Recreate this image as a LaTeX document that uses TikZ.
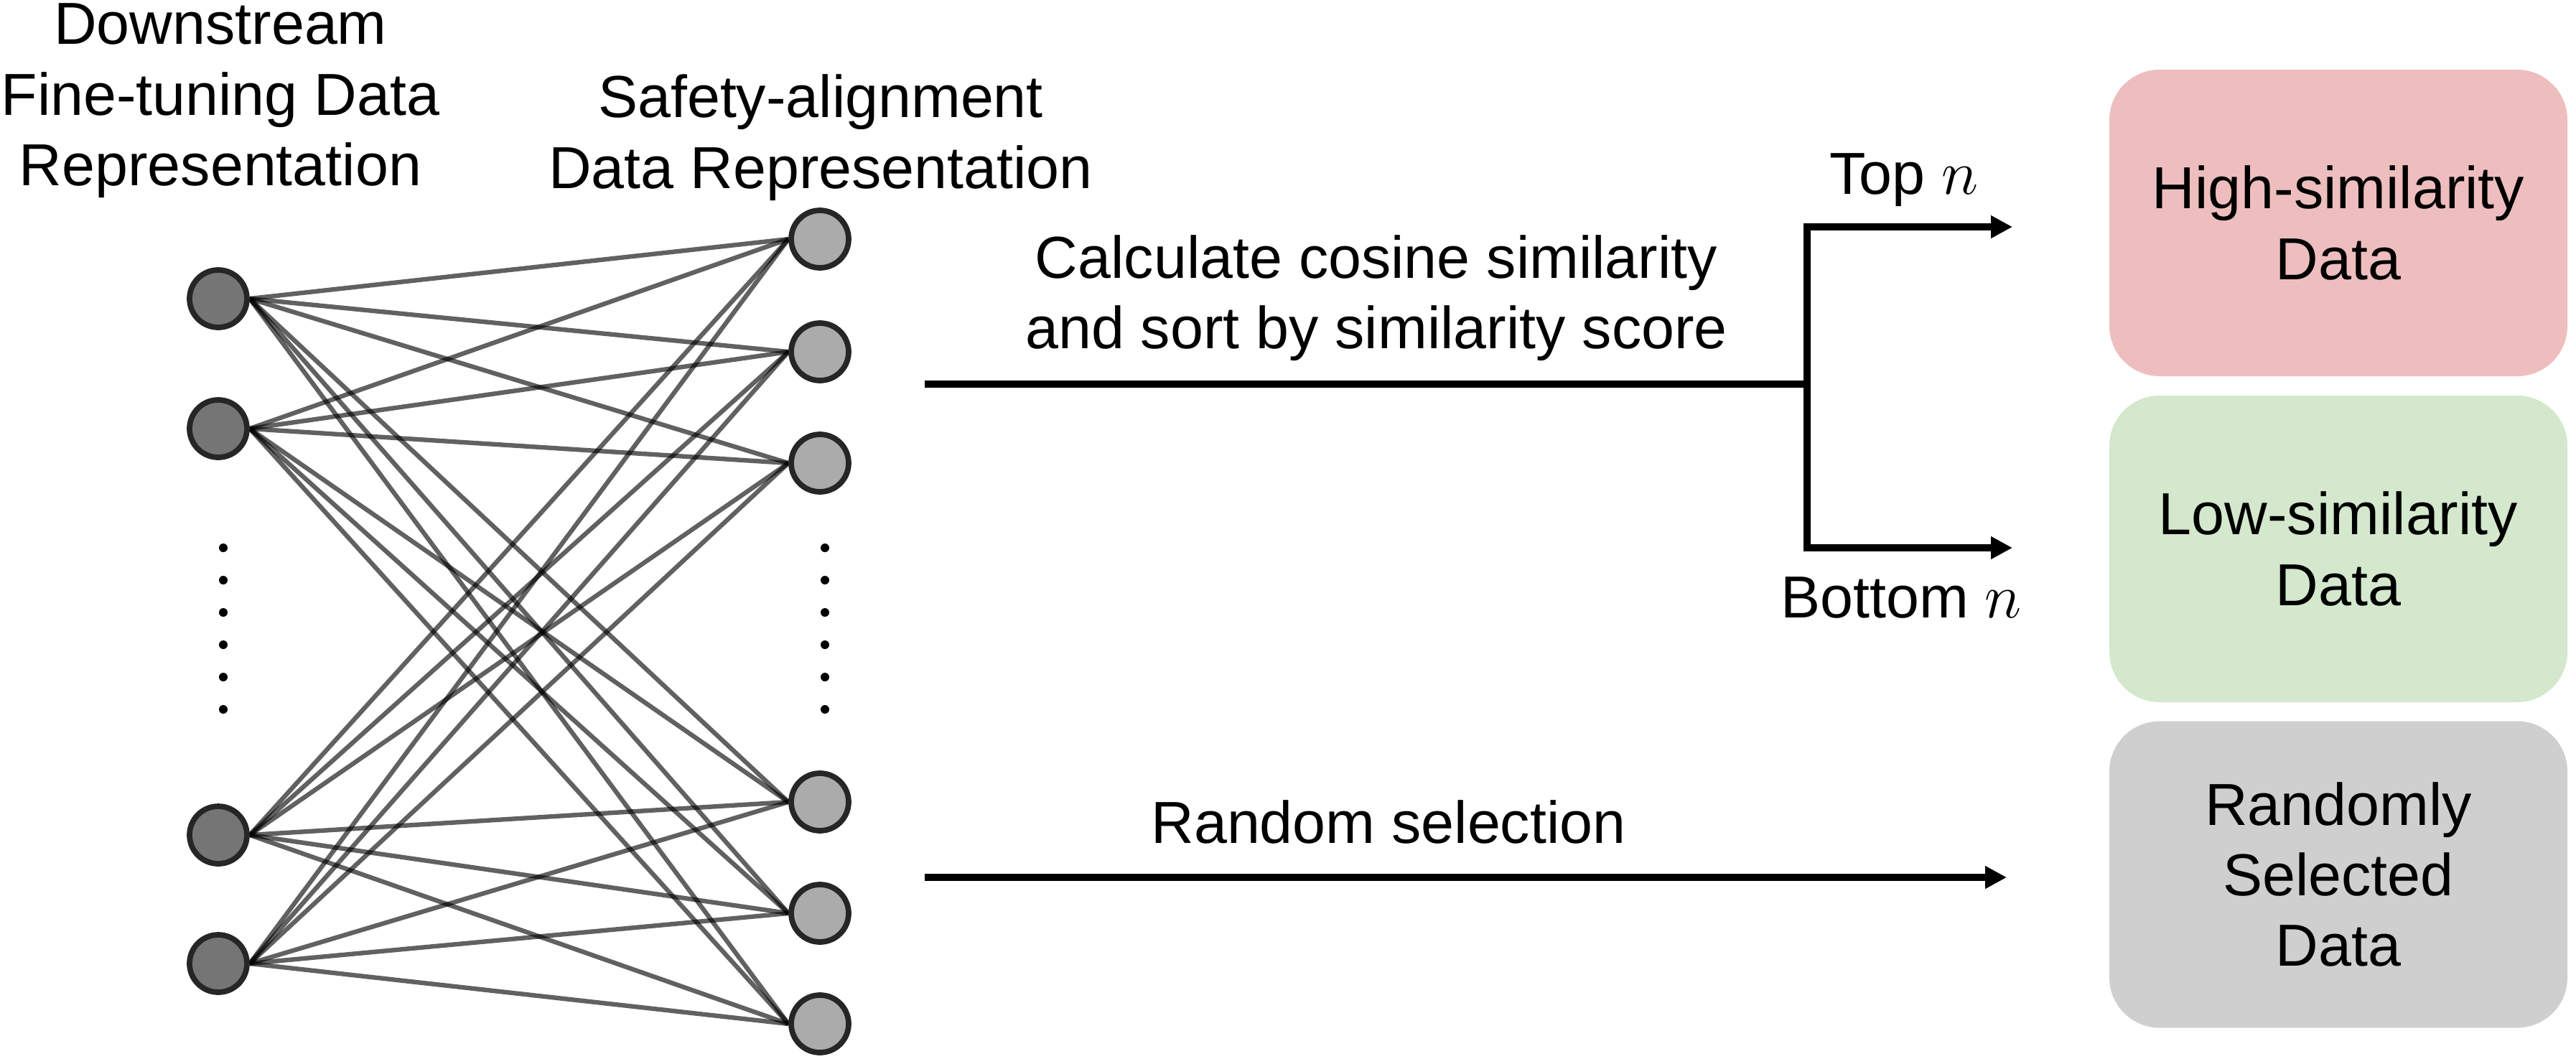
\documentclass[tikz,border=0pt]{standalone}
\usepackage{fontspec}
\setmainfont{Liberation Sans}
\usetikzlibrary{positioning,backgrounds,arrows.meta}

\definecolor{highred}{RGB}{238,190,190}
\definecolor{lowgreen}{RGB}{211,232,204}
\definecolor{randgray}{RGB}{207,207,207}

\tikzset{
  txt/.style={align=center,inner sep=0,font=\fontsize{23.5}{28}\selectfont},
  dsnode/.style={circle,draw=black!85,line width=2.2pt,fill=black!54,minimum size=0.8cm,inner sep=0},
  sanode/.style={circle,draw=black!85,line width=2.2pt,fill=black!33,minimum size=0.8cm,inner sep=0},
  link/.style={draw=black,line width=1.8pt,opacity=0.62},
  flow/.style={line width=2.85pt,-{Triangle[length=3mm,width=3mm]}},
  databox/.style={txt,rounded corners=0.7cm,minimum width=6.38cm,minimum height=4.27cm}
}

\begin{document}
\begin{tikzpicture}
	\useasboundingbox (0,0) rectangle (35.88,-14.74);

	% column titles
	\node[txt] (dstitle) at (3.07,-1.405) {Downstream\\Fine-tuning Data\\Representation};
	\node[txt] (satitle) at (11.43,-1.915) {Safety-alignment\\Data Representation};

	% representation nodes
	\foreach \n/\y in {1/4.16,2/5.97,3/11.63,4/13.42}
		\node[dsnode] (ds\n) at (3.04,-\y) {};
	\foreach \n/\y in {1/3.33,2/4.90,3/6.45,4/11.17,5/12.72,6/14.26}
		\node[sanode] (sa\n) at (11.42,-\y) {};

	\foreach \k in {0,...,5} {
		\fill (3.11,-7.63-0.45*\k) circle (0.06);
		\fill (11.49,-7.63-0.45*\k) circle (0.06);
	}

	% full connections
	\begin{scope}[on background layer]
		\foreach \i in {1,...,4}
			\foreach \j in {1,...,6}
				\draw[link] (ds\i.east) -- (sa\j.west);
	\end{scope}

	% similarity branch
	\coordinate (simstart) at (12.88,-5.35);
	\coordinate (split) at (25.17,-5.35);
	\coordinate (topend) at (28.03,-3.16);
	\coordinate (botend) at (28.03,-7.63);
	\draw[line width=2.85pt] (simstart) -- (split);
	\draw[flow] (split) |- (topend);
	\draw[flow] (split) |- (botend);
	\node[txt] (simlabel) at (19.17,-4.15) {Calculate cosine similarity\\and sort by similarity score};
	\node[txt,anchor=base] (toplabel) at (26.52,-2.70) {Top $n$};
	\node[txt,anchor=base] (botlabel) at (26.48,-8.60) {Bottom $n$};

	% random branch
	\coordinate (randstart) at (12.88,-12.22);
	\coordinate (randend) at (27.95,-12.22);
	\draw[flow] (randstart) -- (randend);
	\node[txt,anchor=base] (randlabel) at (19.34,-11.74) {Random selection};

	% result boxes
	\node[databox,fill=highred] (high) at (32.57,-3.105) {High-similarity\\Data};
	\node[databox,fill=lowgreen] (low) at (32.57,-7.645) {Low-similarity\\Data};
	\node[databox,fill=randgray] (rand) at (32.57,-12.18) {Randomly\\Selected\\Data};
\end{tikzpicture}
\end{document}
